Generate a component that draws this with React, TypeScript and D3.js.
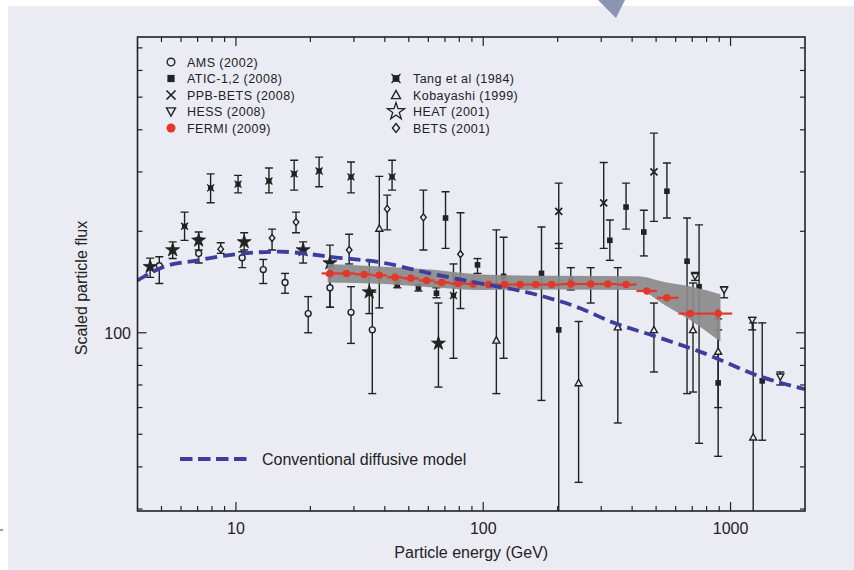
import React from "react";
import * as d3 from "d3";

// rows: energy (GeV), scaled flux, lower end of bar, upper end of bar
const ams = [
  [4.9, 158, 140, 168], [7.07, 172, 161, 191], [10.6, 167, 156, 174], [12.9, 154, 140, 165],
  [15.8, 141, 131, 150], [19.6, 114, 100, 128], [24, 136, 119, 148], [29.2, 115, 93, 137],
  [35.6, 102, 66, 132],
];
const atic = [
  [44.9, 139, 136, 143], [54.7, 136, 133, 139], [64.7, 131, 127, 136], [70.4, 219, 178, 262],
  [94.8, 159, 150, 166], [120.9, 147, 84, 192], [172, 150, 63, 206], [202, 102, 20, 184],
  [226, 143, 134, 156], [272, 139, 122.5, 156], [325, 188, 164, 216], [378, 236, 203, 278],
  [446, 199, 169, 231], [553, 263, 219, 319], [667, 163, 66, 219], [746, 137, 47, 209],
  [891, 71, 43, 102], [1343, 72, 48, 107],
];
const ppbBets = [[202, 229, 178, 278], [307, 243, 178, 320], [490, 300, 214, 391]];
const hess = [[719, 147, 143, 151], [942, 134, 127, 137], [1224, 109, 102, 111], [1589, 74, 70, 76.5]];
const tang = [
  [6.2, 207, 188, 228], [7.9, 269, 243, 296], [10.2, 276, 260, 293], [13.6, 282, 260, 308],
  [17.2, 296, 265, 325], [21.7, 302, 271, 332], [29.2, 290, 260, 321], [42.8, 290, 265, 325],
  [75.8, 129, 84, 160],
];
const kobayashi = [
  [38, 204, 118.5, 291], [113, 95, 66, 202], [243, 71, 36, 108], [350, 104, 54, 156],
  [490, 102, 76.5, 122.5], [705, 102, 66.7, 140.5], [891, 88, 60, 110], [1235, 49, 20, 107],
];
const heat = [
  [4.5, 157, 146, 166.5], [5.55, 176, 166, 186], [7.07, 188, 176, 199], [10.8, 186, 176, 198],
  [18.7, 176, 161, 186], [24, 161, 119, 182], [34.6, 132, 114, 164], [65.9, 93, 69, 122.5],
];
const bets = [
  [8.68, 177, 172, 185], [14, 191, 176, 203], [17.5, 213, 198, 228], [28.7, 176, 160, 196],
  [40.9, 233, 202, 256], [57.3, 220, 176, 265], [80.9, 171, 118, 227],
];
const fermiEnergy = [24, 28, 33, 38, 44, 51, 59, 68, 79, 91, 105, 122, 141, 163, 189, 226, 272, 319, 378, 459, 553, 686, 891];
const fermiFlux = [150, 150, 149, 148, 146, 145, 143, 141, 140, 139.5, 139, 139, 139, 139, 139, 139.5, 139.5, 139.5, 139, 133, 127, 114, 114];
const bandEnergy = [23.5, 40, 61, 98, 200, 420, 550, 700, 910];
const bandLow = [141, 139.5, 136.5, 134, 134.5, 134, 120, 108, 94];
const bandHigh = [160, 157, 154, 149, 147.5, 147, 141, 137, 130];
const modelEnergy = [4, 5, 7, 10, 15, 20, 24, 38, 61, 98, 156, 248, 327, 488, 780, 1330, 2000];
const modelFlux = [143, 156, 164, 171, 174, 171, 168, 162, 150, 140, 131, 118, 108, 98, 87, 74, 68];

const xTickLabels = [10, 100, 1000];
const yTickLabels = [100];
const legendLeft = ["AMS (2002)", "ATIC-1,2 (2008)", "PPB-BETS (2008)", "HESS (2008)", "FERMI (2009)"];
const legendRight = ["Tang et al (1984)", "Kobayashi (1999)", "HEAT (2001)", "BETS (2001)"];

const BG = "#ebebf4";
const INK = "#222";
const RED = "#e2382a";
const BLUE = "#3d3d9e";
const FONT = "'Liberation Sans', Arial, Helvetica, sans-serif";

const M = { left: 137.5, right: 805, top: 37, bottom: 511 };
const x = d3.scaleLog().domain([4, 2000]).range([M.left, M.right]);
const y = d3.scaleLog().domain([29.6, 754]).range([M.bottom, M.top]);

const Marker = ({ kind, cx, cy, s, open }: any) => {
  const h = s / 2;
  switch (kind) {
    case "circle":
      return <circle cx={cx} cy={cy} r={h * 0.85} fill={BG} stroke={INK} strokeWidth={1.4} />;
    case "square":
      return <rect x={cx - h * 0.8} y={cy - h * 0.8} width={s * 0.8} height={s * 0.8} fill={INK} />;
    case "times":
      return <path d={`M${cx - h},${cy - h}L${cx + h},${cy + h}M${cx - h},${cy + h}L${cx + h},${cy - h}`} stroke={INK} strokeWidth={1.7} />;
    case "tang":
      return (
        <g>
          <rect x={cx - h * 0.75} y={cy - h * 0.75} width={s * 0.75} height={s * 0.75} fill={INK} />
          <path d={`M${cx - h},${cy - h}L${cx + h},${cy + h}M${cx - h},${cy + h}L${cx + h},${cy - h}`} stroke={INK} strokeWidth={1.3} />
        </g>
      );
    case "tridown":
      return <path d={`M${cx - h},${cy - h * 0.8}L${cx + h},${cy - h * 0.8}L${cx},${cy + h}Z`} fill={BG} stroke={INK} strokeWidth={1.4} />;
    case "triup":
      return <path d={`M${cx - h},${cy + h * 0.8}L${cx + h},${cy + h * 0.8}L${cx},${cy - h}Z`} fill={BG} stroke={INK} strokeWidth={1.4} />;
    case "diamond":
      return <path d={`M${cx},${cy - h}L${cx + h * 0.8},${cy}L${cx},${cy + h}L${cx - h * 0.8},${cy}Z`} fill={BG} stroke={INK} strokeWidth={1.4} />;
    case "star": {
      const p = d3.symbol().type(d3.symbolStar).size(s * s * 0.75)()!;
      return <path d={p} transform={`translate(${cx},${cy})`} fill={open ? BG : INK} stroke={INK} strokeWidth={open ? 1.3 : 0.8} />;
    }
    case "fermi":
      return <circle cx={cx} cy={cy} r={h} fill={RED} />;
  }
  return null;
};

const series = [
  { data: ams, kind: "circle" },
  { data: atic, kind: "square" },
  { data: ppbBets, kind: "times" },
  { data: hess, kind: "tridown" },
  { data: tang, kind: "tang" },
  { data: kobayashi, kind: "triup" },
  { data: heat, kind: "star" },
  { data: bets, kind: "diamond" },
];

export default function App() {
  const xTicks = x.ticks().filter((t) => t > 4 && t < 2000);
  const yTicks = y.ticks().filter((t) => t > 29.6 && t < 754);
  const isMajor = (t: number) => Math.abs(Math.log10(t) - Math.round(Math.log10(t))) < 1e-9;

  const model = d3
    .line<number>()
    .x((_, i) => x(modelEnergy[i]))
    .y((d) => y(d))
    .curve(d3.curveMonotoneX)(modelFlux)!;

  const band = d3
    .area<number>()
    .x((_, i) => x(bandEnergy[i]))
    .y0((_, i) => y(bandLow[i]))
    .y1((_, i) => y(bandHigh[i]))
    .curve(d3.curveMonotoneX)(bandEnergy)!;

  // red bin bars reach halfway (in log) to the neighbouring points
  const fx = fermiEnergy.map((e) => x(e));
  const binEdges = fx.map((px, i) => {
    const prev = i > 0 ? (fx[i - 1] + px) / 2 : px - (fx[1] - fx[0]) / 2;
    const next = i < fx.length - 1 ? (fx[i + 1] + px) / 2 : px + (px - fx[i - 1]) / 2;
    return [prev, next];
  });

  return (
    <svg width={854} height={570} style={{ position: "absolute", left: 0, top: 0, display: "block" }} fontFamily={FONT}>
      <rect width={854} height={570} fill="#fff" />
      <rect x={8} y={6} width={846} height={564} fill={BG} />
      <path d="M598,0L625,0L616,18Z" fill="#8c93b3" />
      <line x1={0} x2={3} y1={530} y2={530} stroke="#6a7bc0" strokeWidth={1.5} />
      <defs>
        <clipPath id="plot">
          <rect x={M.left} y={M.top} width={M.right - M.left} height={M.bottom - M.top} />
        </clipPath>
      </defs>

      <g clipPath="url(#plot)">
        {series.map((s, si) => (
          <g key={si} stroke={INK} strokeWidth={1.4}>
            {s.data.map((d, i) => {
              const px = x(d[0]);
              const lo = y(d[2]);
              const hi = y(d[3]);
              return (
                <g key={i}>
                  <line x1={px} x2={px} y1={lo} y2={hi} />
                  <line x1={px - 4} x2={px + 4} y1={lo} y2={lo} />
                  <line x1={px - 4} x2={px + 4} y1={hi} y2={hi} />
                </g>
              );
            })}
          </g>
        ))}
        {series.map((s, si) => (
          <g key={si}>
            {s.data.map((d, i) => (
              <Marker key={i} kind={s.kind} cx={x(d[0])} cy={y(d[1])} s={s.kind === "star" ? 9 : 7} />
            ))}
          </g>
        ))}
        <path d={band} fill="#8a8a8a" opacity={0.92} />
        {fermiFlux.map((f, i) => (
          <line key={i} x1={binEdges[i][0]} x2={binEdges[i][1]} y1={y(f)} y2={y(f)} stroke={RED} strokeWidth={2.2} />
        ))}
        <line
          x1={fx[fx.length - 1]}
          x2={fx[fx.length - 1]}
          y1={y(fermiFlux[fermiFlux.length - 1]) - 5}
          y2={y(fermiFlux[fermiFlux.length - 1]) + 5}
          stroke={RED}
          strokeWidth={1.5}
        />
        {fermiFlux.map((f, i) => (
          <Marker key={i} kind="fermi" cx={fx[i]} cy={y(f)} s={7.5} />
        ))}
        <path d={model} fill="none" stroke={BLUE} strokeWidth={3.8} strokeDasharray="12 6" />
      </g>

      {/* ticks, all four sides, pointing inward */}
      <g stroke={INK} strokeWidth={1.2}>
        {xTicks.map((t) => {
          const len = isMajor(t) ? 9 : 5;
          return (
            <g key={t}>
              <line x1={x(t)} x2={x(t)} y1={M.bottom} y2={M.bottom - len} />
              <line x1={x(t)} x2={x(t)} y1={M.top} y2={M.top + len} />
            </g>
          );
        })}
        {yTicks.map((t) => {
          const len = isMajor(t) ? 9 : 5;
          return (
            <g key={t}>
              <line x1={M.left} x2={M.left + len} y1={y(t)} y2={y(t)} />
              <line x1={M.right} x2={M.right - len} y1={y(t)} y2={y(t)} />
            </g>
          );
        })}
      </g>
      <rect x={M.left} y={M.top} width={M.right - M.left} height={M.bottom - M.top} fill="none" stroke={INK} strokeWidth={1.6} />

      <g fill={INK} fontSize={16}>
        {xTickLabels.map((t) => (
          <text key={t} x={x(t)} y={534} textAnchor="middle">{t}</text>
        ))}
        {yTickLabels.map((t) => (
          <text key={t} x={131} y={y(t) + 6} textAnchor="end">{t}</text>
        ))}
        <text x={(M.left + M.right) / 2} y={558} textAnchor="middle">Particle energy (GeV)</text>
        <text transform={`translate(87,288) rotate(-90)`} textAnchor="middle">Scaled particle flux</text>
      </g>

      {/* legend */}
      <g fontSize={12.5} fill={INK} letterSpacing={0.45}>
        {legendLeft.map((t, i) => {
          const ly = 62 + i * 16.5;
          const kinds = ["circle", "square", "times", "tridown", "fermi"];
          return (
            <g key={t}>
              <Marker kind={kinds[i]} cx={171} cy={ly} s={9} />
              <text x={187} y={ly + 4.5}>{t}</text>
            </g>
          );
        })}
        {legendRight.map((t, i) => {
          const ly = 78.5 + i * 16.5;
          const kinds = ["tang", "triup", "star", "diamond"];
          return (
            <g key={t}>
              <Marker kind={kinds[i]} cx={396} cy={ly} s={kinds[i] === "star" ? 11 : 9} open />
              <text x={413} y={ly + 4.5}>{t}</text>
            </g>
          );
        })}
      </g>
      <line x1={180} x2={247} y1={459} y2={459} stroke={BLUE} strokeWidth={3.8} strokeDasharray="12.5 5.5" />
      <text x={262} y={465} fontSize={16} fill={INK}>Conventional diffusive model</text>
    </svg>
  );
}
